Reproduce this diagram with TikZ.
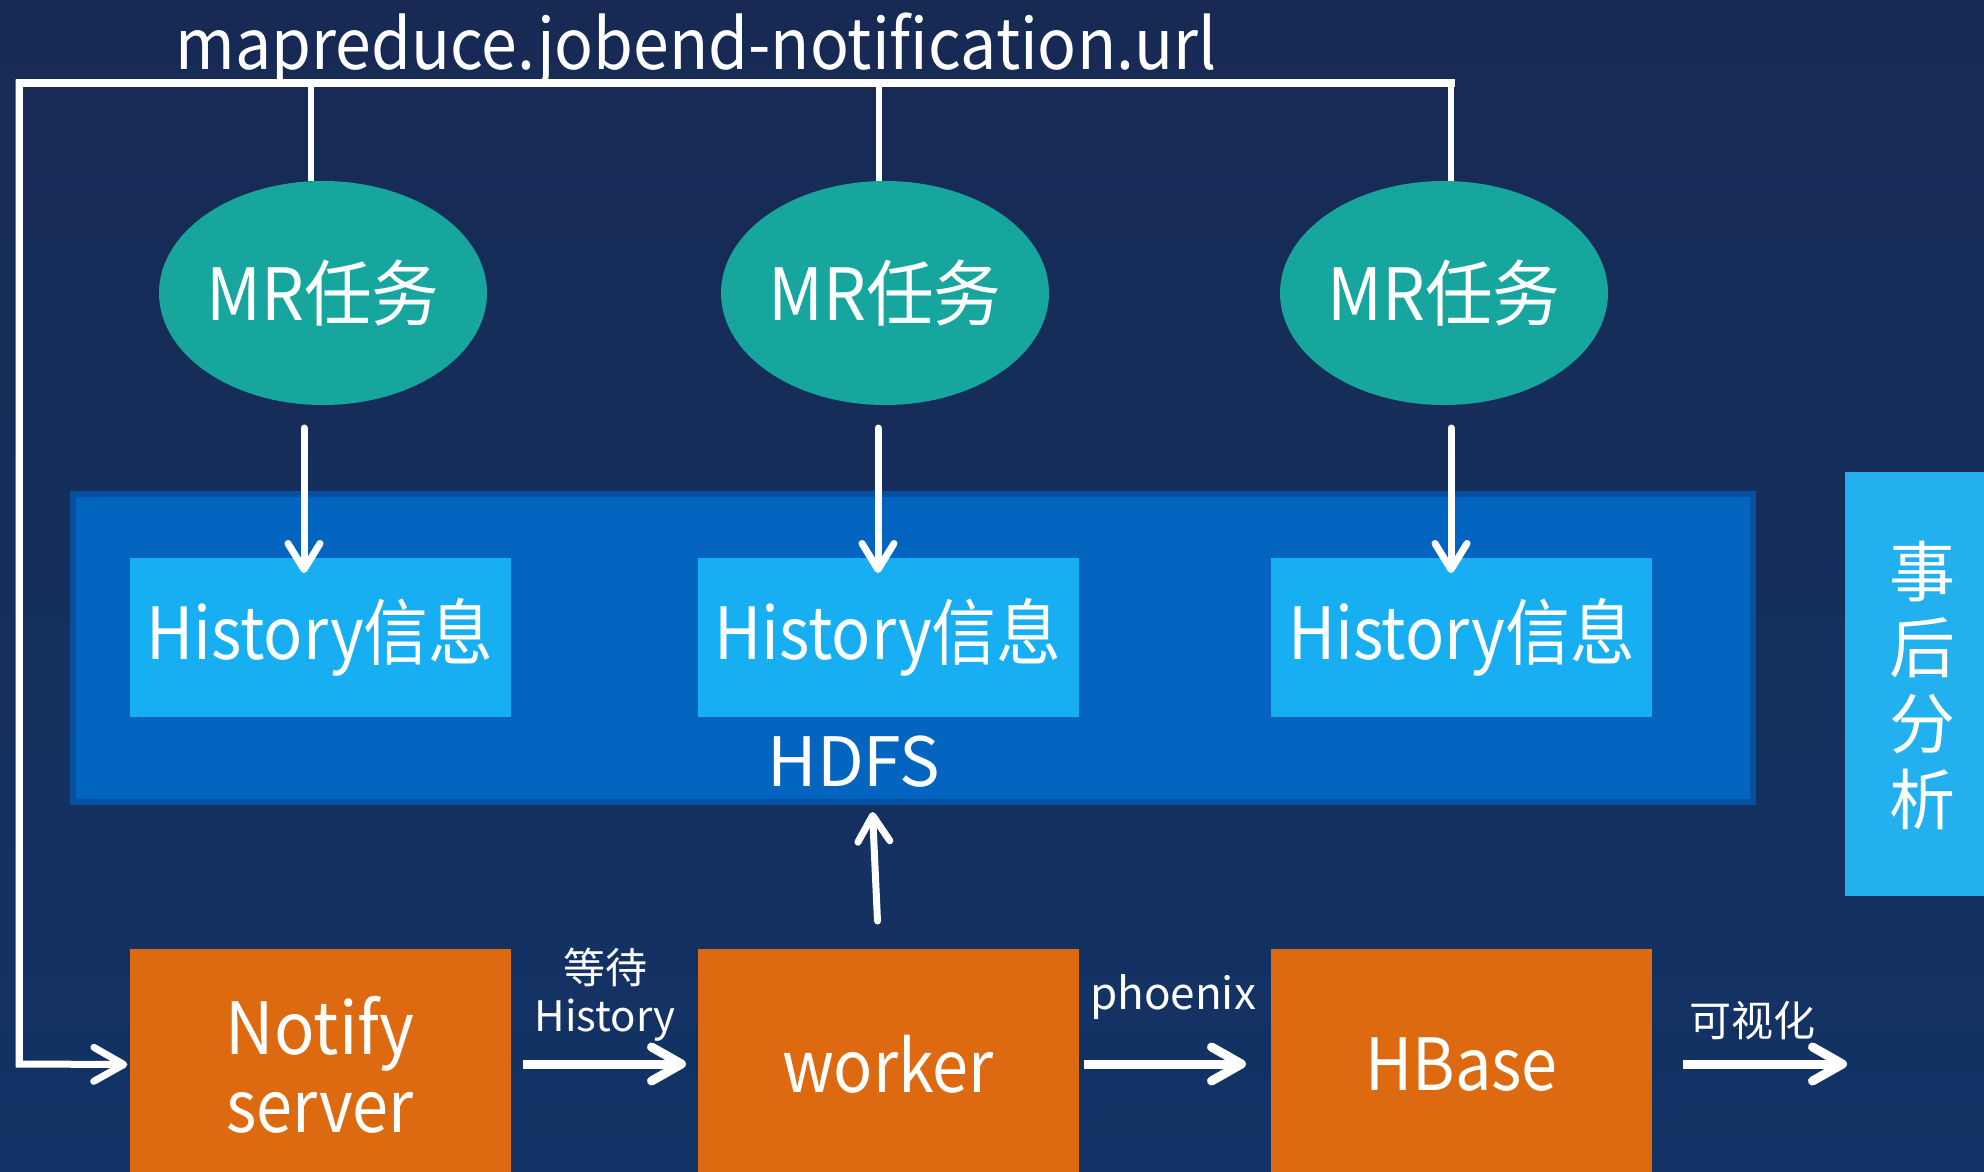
\documentclass[tikz,border=0pt]{standalone}
\usepackage{fontspec}
\setmainfont{Noto Sans CJK SC}
\usetikzlibrary{shapes.geometric,arrows.meta,calc}
\definecolor{bgtop}{RGB}{23,42,84}
\definecolor{bgbot}{RGB}{19,51,102}
\definecolor{mrteal}{RGB}{22,166,158}
\definecolor{hdfsfill}{RGB}{4,101,192}
\definecolor{hdfsline}{RGB}{6,80,160}
\definecolor{histblue}{RGB}{24,175,242}
\definecolor{sideblue}{RGB}{34,176,238}
\definecolor{boxorange}{RGB}{221,106,16}
\newcommand{\hsq}[2]{\scalebox{#1}[1]{#2}}
\tikzset{
  mrnode/.style={ellipse,fill=mrteal,minimum width=328pt,minimum height=224pt,inner sep=0pt},
  mrtext/.style={text=white,inner sep=0pt,font=\fontsize{72}{80}\selectfont},
  histnode/.style={rectangle,fill=histblue,minimum width=381pt,minimum height=159pt,inner sep=0pt,text=white,font=\fontsize{72}{80}\selectfont},
  orangenode/.style={rectangle,fill=boxorange,minimum width=381pt,minimum height=231pt,inner sep=0pt,text=white,align=center,font=\fontsize{72}{78}\selectfont},
  lbl/.style={text=white,inner sep=0pt,align=center,font=\fontsize{42}{48}\selectfont},
  wline/.style={draw=white,line width=7pt},
  darr/.style={draw=white,line width=7pt,line cap=round,-{Straight Barb[length=26pt,width=32pt,line cap=round,line join=round]}},
  harr/.style={draw=white,line width=9pt,line cap=butt,-{Straight Barb[length=30pt,width=34pt,line cap=round,line join=round]}},
}
\begin{document}
\begin{tikzpicture}[x=1pt,y=-1pt]
\clip (0,0) rectangle (1984,1172);
\shade[top color=bgtop,bottom color=bgbot] (0,0) rectangle (1984,1172);

% title
\node[text=white,inner sep=0pt,anchor=base,font=\fontsize{70}{80}\selectfont] (title) at (696,70) {\hsq{0.92}{mapreduce.jobend-notification.url}};

% HDFS container
\node[rectangle,fill=hdfsfill,draw=hdfsline,line width=6pt,minimum width=1680pt,minimum height=308pt,inner sep=0pt] (hdfs) at (913,648) {};
\node[text=white,inner sep=0pt,font=\fontsize{68}{76}\selectfont] (hdfslbl) at (854,762) {HDFS};

% ellipses
\node[mrnode,label={[mrtext]center:\hsq{0.94}{MR任务}}] (e1) at (323,293) {};
\node[mrnode,label={[mrtext]center:\hsq{0.94}{MR任务}}] (e2) at (885,293) {};
\node[mrnode,label={[mrtext]center:\hsq{0.94}{MR任务}}] (e3) at (1444,293) {};

% history boxes
\node[histnode] (h1) at (320,637.5) {\hsq{0.9}{History信息}};
\node[histnode] (h2) at (888,637.5) {\hsq{0.9}{History信息}};
\node[histnode] (h3) at (1461.5,637.5) {\hsq{0.9}{History信息}};

% orange boxes
\node[orangenode] (notify) at (320,1064.5) {\hsq{0.93}{Notify}\\\hsq{0.9}{server}};
\node[orangenode] (worker) at (888,1064.5) {\hsq{0.9}{worker}};
\node[orangenode] (hbase) at (1461.5,1064.5) {\hsq{0.9}{HBase}};

% side box
\node[rectangle,fill=sideblue,minimum width=150pt,minimum height=424pt,inner sep=0pt,anchor=north west] (side) at (1845,472) {};
\node[text=white,inner sep=0pt,align=center,font=\fontsize{66}{76}\selectfont] (sidelbl) at (1922,685) {事\\后\\分\\析};

% notification line
\coordinate (tr) at (1455,83);
\coordinate (tl) at (19,83);
\coordinate (bl) at (19,1064);
\coordinate (t1) at (311,83);
\coordinate (t2) at (879,83);
\coordinate (t3) at (1451,83);
\draw[wline,line join=miter] (tr) -- (tl) -- (bl);
\draw[harr,line width=7pt] ($(tl)+(0,-3.5)$) -- (bl) -- ($(notify.west)+(-2,0)$);
\draw[draw=white,line width=6pt] (t1) -- (t1 |- e1.north);
\draw[draw=white,line width=6pt] (t2) -- (t2 |- e2.north);
\draw[draw=white,line width=6pt] (t3) -- (t3 |- e3.north);

% ellipse -> history arrows
\coordinate (a1s) at (304,428); \coordinate (a1e) at (304,573);
\coordinate (a2s) at (878,428); \coordinate (a2e) at (878,573);
\coordinate (a3s) at (1451,428); \coordinate (a3e) at (1451,573);
\draw[darr] (a1s) -- (a1e);
\draw[darr] (a2s) -- (a2e);
\draw[darr] (a3s) -- (a3e);

% worker -> HDFS
\coordinate (ws) at (877.5,921);
\coordinate (we) at (872.5,812);
\draw[darr] (ws) -- (we);

% bottom arrows
\coordinate (n1) at (523,1064); \coordinate (n2) at (686,1064);
\coordinate (p1) at (1084,1064); \coordinate (p2) at (1246,1064);
\coordinate (v1) at (1683,1064); \coordinate (v2) at (1847,1064);
\draw[harr] (n1) -- (n2);
\draw[harr] (p1) -- (p2);
\draw[harr] (v1) -- (v2);

\node[lbl] (waitlbl) at (605,995) {等待\\History};
\node[lbl,anchor=base,font=\fontsize{44}{48}\selectfont] (phxlbl) at (1173,1009) {phoenix};
\node[lbl,anchor=base] (vislbl) at (1752,1036) {可视化};
\end{tikzpicture}
\end{document}
